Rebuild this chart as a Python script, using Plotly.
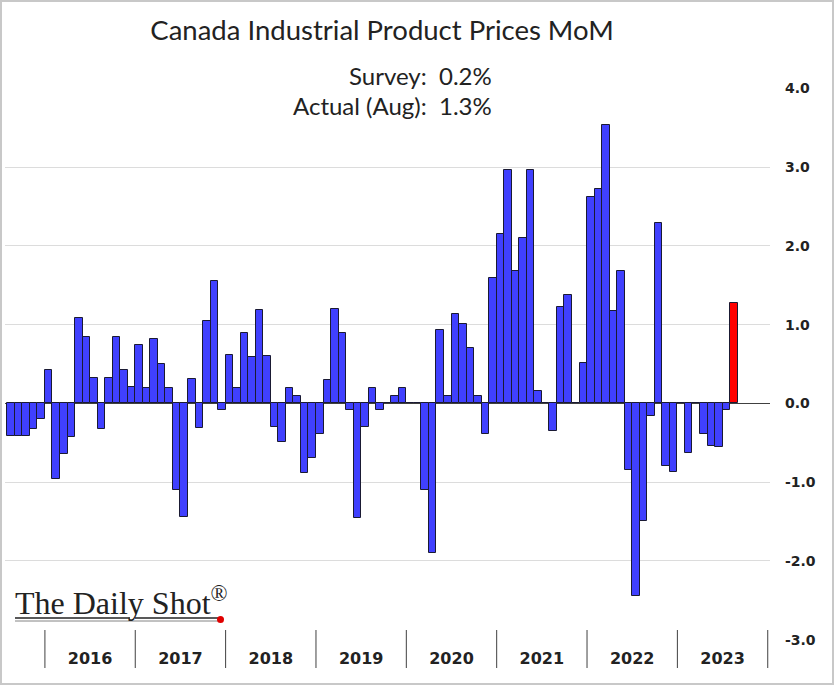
import plotly.graph_objects as go

# ---------------- data (monthly MoM %, Aug 2015 .. Aug 2023) ----------------
years = ["2016", "2017", "2018", "2019", "2020", "2021", "2022", "2023"]
mom_2015 = [-0.41, -0.41, -0.41, -0.32, -0.20]  # Aug-Dec 2015
mom_2016 = [0.43, -0.96, -0.64, -0.43, 1.08, 0.84, 0.32, -0.32, 0.32, 0.84, 0.43, 0.21]
mom_2017 = [0.74, 0.20, 0.82, 0.50, 0.20, -1.10, -1.44, 0.31, -0.31, 1.05, 1.55, -0.09]
mom_2018 = [0.61, 0.20, 0.90, 0.59, 1.18, 0.60, -0.30, -0.49, 0.20, 0.10, -0.89, -0.69]
mom_2019 = [-0.39, 0.30, 1.20, 0.89, -0.08, -1.46, -0.30, 0.20, -0.09, 0.00, 0.10, 0.20]
mom_2020 = [0.00, 0.00, -1.10, -1.90, 0.93, 0.10, 1.13, 1.01, 0.70, 0.10, -0.39, 1.59]
mom_2021 = [2.15, 2.97, 1.68, 2.10, 2.96, 0.16, 0.00, -0.35, 1.22, 1.38, 0.00, 0.51]
mom_2022 = [2.62, 2.72, 3.54, 1.17, 1.68, -0.84, -2.44, -1.49, -0.16, 2.29, -0.79, -0.87]
mom_2023 = [0.00, -0.63, 0.00, -0.39, -0.54, -0.56, -0.08, 1.27]  # Jan-Aug 2023
y_ticks = [-3, -2, -1, 0, 1, 2, 3, 4]
y_tick_labels = ["-3.0", "-2.0", "-1.0", "0.0", "1.0", "2.0", "3.0", "4.0"]
survey_text = "Survey:\u00a0\u00a00.2%"
actual_text = "Actual (Aug):\u00a0\u00a01.3%"
title_text = "Canada Industrial Product Prices MoM"

values = mom_2015 + mom_2016 + mom_2017 + mom_2018 + mom_2019 + mom_2020 + mom_2021 + mom_2022 + mom_2023
n = len(values)
x = list(range(n))
lead = len(mom_2015)

BLUE = "#4040FF"
RED = "#FF0000"
colors = [BLUE] * (n - 1) + [RED]

# pixel helpers (plot area: x 5..770, y 88..640)
L, R, T, B = 5, 770, 88, 640
W, H = 835, 685
def px(p):
    return (p - L) / (R - L)
def py(p):
    return (B - p) / (B - T)

fig = go.Figure()
fig.add_trace(go.Bar(
    x=x, y=values,
    marker=dict(color=colors, line=dict(color="#1a1a33", width=1)),
    showlegend=False,
))

year_centers = [lead + 12 * k + 5.5 for k in range(len(years))]
separators = [lead - 0.5 + 12 * k for k in range(len(years) + 1)]

shapes = []
for s in separators:
    shapes.append(dict(type="line", xref="x", yref="paper", x0=s, x1=s,
                       y0=py(668), y1=py(630), line=dict(color="#404040", width=1)))
# white box behind the survey/actual text (hides the 4.0 gridline)
shapes.append(dict(type="rect", xref="paper", yref="paper", x0=px(245), x1=px(507),
                   y0=py(118), y1=py(62), fillcolor="white", line=dict(width=0), layer="between"))
# logo underlines and dot
shapes.append(dict(type="line", xref="paper", yref="paper", x0=px(15), x1=px(130),
                   y0=py(618), y1=py(618), line=dict(color="#222", width=1.5)))
shapes.append(dict(type="line", xref="paper", yref="paper", x0=px(135), x1=px(218),
                   y0=py(618), y1=py(618), line=dict(color="#222", width=1.5)))
shapes.append(dict(type="line", xref="paper", yref="paper", x0=px(15), x1=px(218),
                   y0=py(621), y1=py(621), line=dict(color="#666", width=0.8)))
shapes.append(dict(type="circle", xref="paper", yref="paper", x0=px(217), x1=px(224),
                   y0=py(623), y1=py(616), fillcolor="#E00000", line=dict(width=0)))
# outer border
shapes.append(dict(type="rect", xref="paper", yref="paper", x0=px(1), x1=px(833),
                   y0=py(684), y1=py(1), line=dict(color="#C8C8C8", width=2)))

annotations = [
    dict(text=survey_text, xref="paper", yref="paper", x=px(494), y=py(76),
         xanchor="right", yanchor="middle", showarrow=False,
         font=dict(family="Lato", size=24, color="#222")),
    dict(text=actual_text, xref="paper", yref="paper", x=px(494), y=py(105),
         xanchor="right", yanchor="middle", showarrow=False,
         font=dict(family="Lato", size=24, color="#222")),
    dict(text="The Daily Shot<sup>®</sup>", xref="paper", yref="paper", x=px(13), y=py(601),
         xanchor="left", yanchor="middle", showarrow=False,
         font=dict(family="Liberation Serif", size=32, color="#222")),
]

fig.update_layout(
    width=W, height=H,
    margin=dict(l=L, r=W - R, t=T, b=H - B),
    paper_bgcolor="white", plot_bgcolor="white",
    bargap=0,
    title=dict(text=title_text, x=382 / W, y=1 - 30 / H, xanchor="center", yanchor="middle",
               font=dict(family="Lato", size=27.5, color="#222")),
    shapes=shapes,
    annotations=annotations,
    xaxis=dict(range=[-0.8, n + 3.8], tickvals=year_centers, ticktext=years,
               showgrid=False, zeroline=False, showline=False, ticks="",
               tickfont=dict(family="DejaVu Sans", size=16, color="#222", weight="bold"),
               ticklabelstandoff=7),
    yaxis=dict(side="right", range=[-3.005, 4.005], tickvals=y_ticks, ticktext=y_tick_labels,
               showgrid=True, gridcolor="#DCDCDC", gridwidth=1,
               zeroline=True, zerolinecolor="#404040", zerolinewidth=1.2,
               showline=False, ticks="",
               tickfont=dict(family="DejaVu Sans", size=14, color="#222", weight="bold"),
               ticklabelstandoff=14),
)

fig.write_html("out.html", config={"displayModeBar": False},
               post_script="document.body.style.margin='0';")
